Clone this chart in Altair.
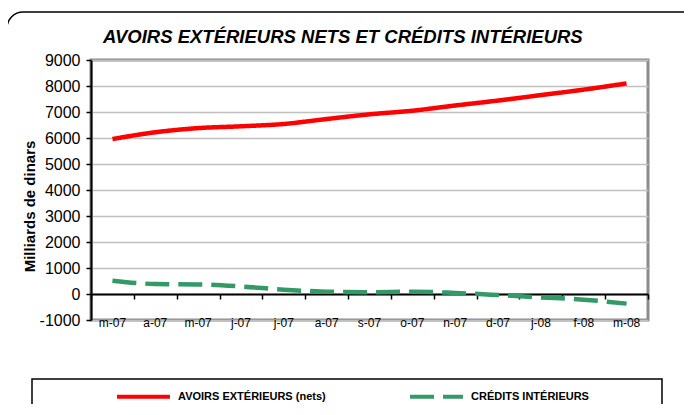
import altair as alt
import pandas as pd

months = ["m-07", "a-07", "m-07", "j-07", "j-07", "a-07", "s-07", "o-07",
          "n-07", "d-07", "j-08", "f-08", "m-08"]
avoirs = [5960, 6220, 6380, 6450, 6540, 6730, 6910, 7050, 7250, 7440, 7650, 7860, 8100]
credits = [510, 385, 370, 290, 165, 90, 65, 90, 40, -40, -130, -220, -370]
series_names = ["AVOIRS EXTÉRIEURS (nets)", "CRÉDITS INTÉRIEURS"]
colors = ["#ff0000", "#339966"]
y_ticks = list(range(-1000, 9001, 1000))
title_text = "AVOIRS EXTÉRIEURS NETS ET CRÉDITS INTÉRIEURS"

rows = []
for i, m in enumerate(months):
    rows.append({"idx": i, "mois": m, "serie": series_names[0], "valeur": avoirs[i]})
    rows.append({"idx": i, "mois": m, "serie": series_names[1], "valeur": credits[i]})
df = pd.DataFrame(rows)

FONT = "Liberation Sans"
W, H = 557, 260

label_expr = "[" + ",".join("'" + m + "'" for m in months) + "][datum.value]"

xscale = alt.Scale(type="band", paddingInner=0, paddingOuter=0)
yscale = alt.Scale(domain=[-1000, 9000], nice=False, zero=False)

yaxis = alt.Axis(values=y_ticks, labelExpr="'' + datum.value",
                 domainColor="black", domainWidth=2,
                 tickColor="black", tickWidth=1.5, tickSize=5,
                 labelFont=FONT, labelFontSize=16, labelColor="black", labelPadding=6,
                 title="Milliards de dinars", titleFont=FONT, titleFontSize=15,
                 titleFontWeight="bold", titleColor="black",
                 titleX=-62, titleY=146, titleAlign="center", titleBaseline="middle",
                 titleAngle=270,
                 grid=True, gridColor="#c0c0c0", gridWidth=1.5)

base = alt.Chart(df)

legend = alt.Legend(orient="none", legendX=24, legendY=308,
                    direction="horizontal", title=None,
                    symbolType="stroke", symbolSize=2800,
                    symbolStrokeWidth=4,
                    labelFont=FONT, labelFontSize=11,
                    labelFontWeight="bold", labelColor="black",
                    labelOffset=6, columnPadding=76, padding=0)

lines = base.mark_line(strokeWidth=4.5, strokeCap="butt", interpolate="monotone").encode(
    x=alt.X("idx:O", scale=xscale, bandPosition=0.5,
            axis=alt.Axis(orient="bottom", offset=-26, labels=False, title=None,
                          domainColor="black", domainWidth=2, ticks=True,
                          tickColor="black", tickWidth=1.5, tickSize=5,
                          tickBand="extent", grid=False)),
    y=alt.Y("valeur:Q", scale=yscale, axis=yaxis),
    color=alt.Color("serie:N", scale=alt.Scale(domain=series_names, range=colors),
                    legend=legend),
    strokeDash=alt.StrokeDash("serie:N",
                              scale=alt.Scale(domain=series_names, range=[[1, 0], [24, 9]]),
                              legend=legend),
)

labels_layer = base.mark_line(opacity=0).encode(
    x=alt.X("idx:O", scale=xscale, bandPosition=0.5,
            axis=alt.Axis(orient="bottom", labelExpr=label_expr, title=None,
                          domain=False, ticks=False, grid=False,
                          labelFont=FONT, labelFontSize=12, labelColor="black",
                          labelBaseline="middle", labelPadding=2, labelAngle=0)),
    y=alt.Y("valeur:Q", scale=yscale, axis=yaxis),
    detail="serie:N",
)

frame_df = pd.DataFrame({"k": [0]})
frame = alt.Chart(frame_df).mark_rect(filled=False, stroke="black", strokeWidth=1.5,
                                      cornerRadius=16).encode(
    x=alt.value(-84), x2=alt.value(700), y=alt.value(-48), y2=alt.value(360))

legend_box = alt.Chart(frame_df).mark_rect(filled=False, stroke="black",
                                           strokeWidth=1.5).encode(
    x=alt.value(-59), x2=alt.value(571), y=alt.value(319), y2=alt.value(346))

title = alt.Chart(frame_df).mark_text(text=title_text, font=FONT, fontSize=18.5,
                                      fontStyle="italic", fontWeight="bold",
                                      color="black", align="left",
                                      baseline="alphabetic").encode(
    x=alt.value(12), y=alt.value(-17))

chart = alt.layer(frame, legend_box, title, labels_layer, lines).resolve_axis(
    x="independent").properties(
    width=W, height=H,
    autosize=alt.AutoSizeParams(type="none"),
    padding={"left": 83, "top": 52, "right": 36, "bottom": 84},
).configure_view(stroke="#8c8c8c", strokeWidth=3)

chart.save("out.html", embed_options={"renderer": "svg", "actions": False})
